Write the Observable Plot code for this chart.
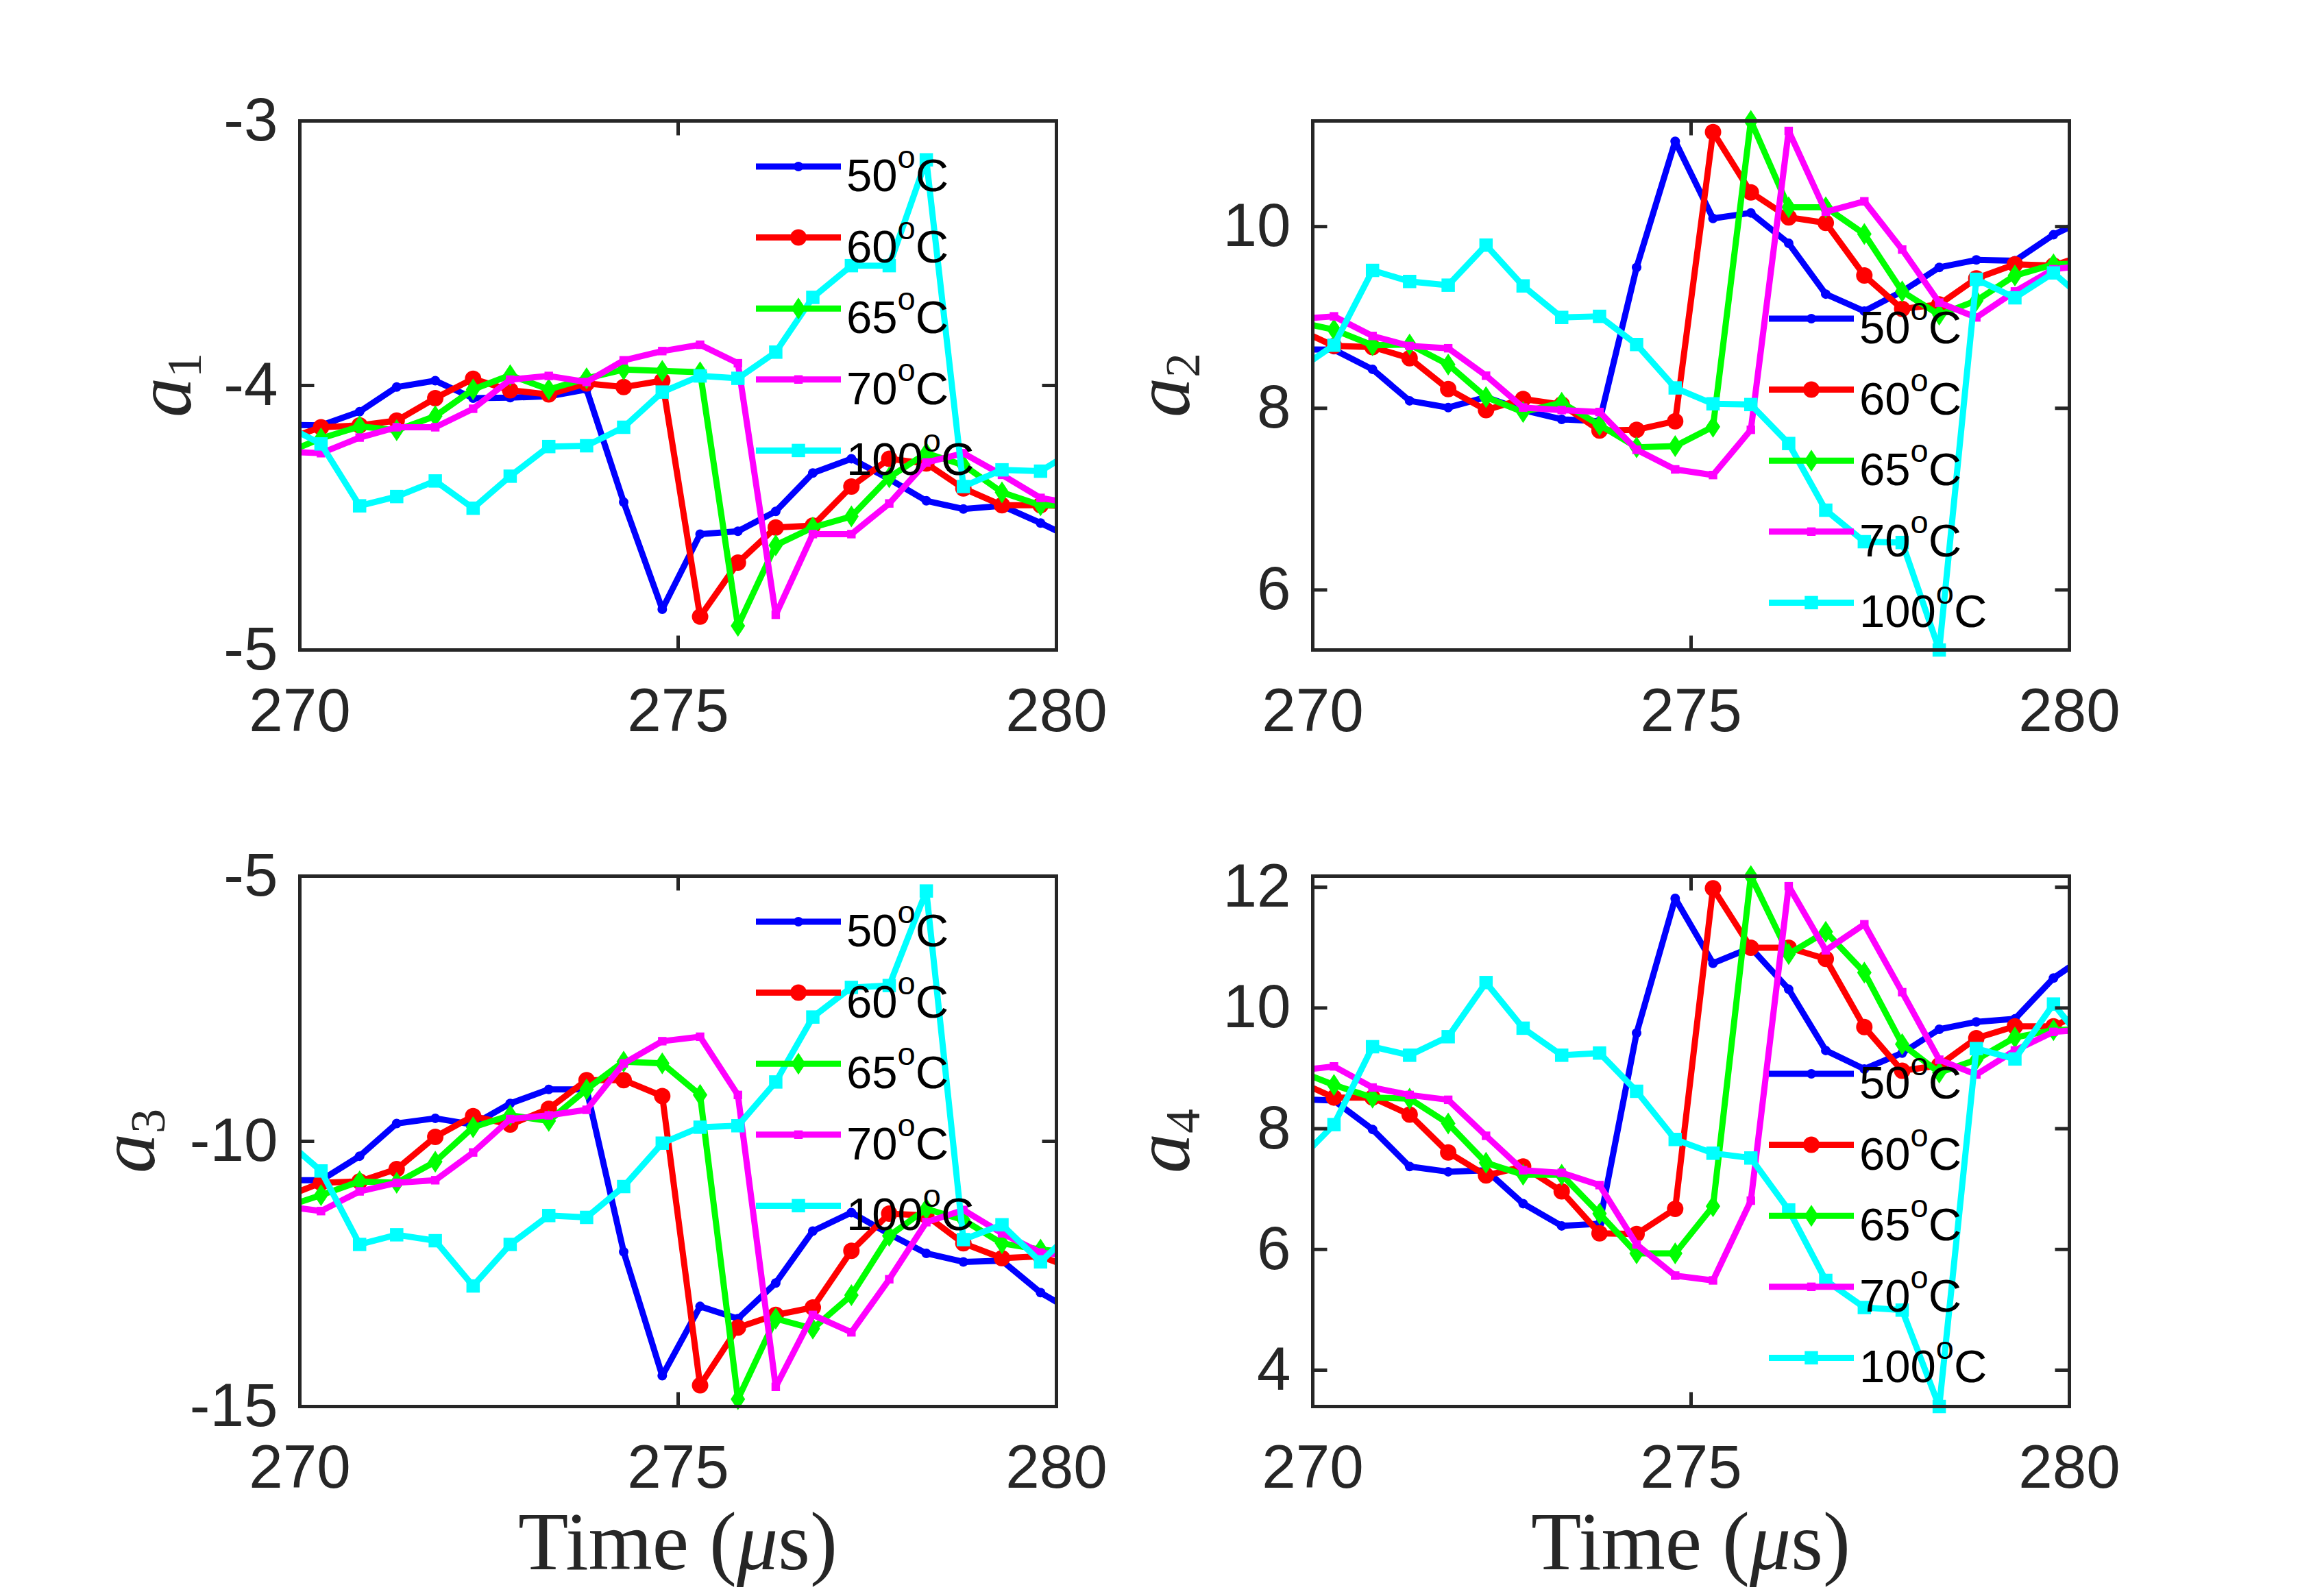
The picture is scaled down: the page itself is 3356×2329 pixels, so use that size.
<!DOCTYPE html>
<html>
<head>
<meta charset="utf-8">
<script src="https://cdn.jsdelivr.net/npm/d3@7"></script>
<script src="https://cdn.jsdelivr.net/npm/@observablehq/plot@0.6"></script>
<style>
html, body { margin: 0; padding: 0; background: #ffffff; }
#fig { position: relative; width: 3356px; height: 2329px; background: #ffffff; overflow: hidden; }
#fig svg { position: absolute; }
</style>
</head>
<body>
<div id="fig"></div>
<script>
// ---------------- data ----------------
const times = [269.78, 270.28, 270.79, 271.28, 271.79, 272.29, 272.78, 273.29, 273.79, 274.28, 274.79,
               275.29, 275.79, 276.29, 276.78, 277.29, 277.79, 278.28, 278.77, 279.28, 279.79, 280.29];

const seriesLabels = ["50", "60", "65", "70", "100"];
const seriesColors = ["#0000ff", "#ff0000", "#00ff00", "#ff00ff", "#00ffff"];

const xTicks = [270, 275, 280];

// a1
const a1_50  = [-4.148, -4.151, -4.099, -4.006, -3.982, -4.048, -4.046, -4.041, -4.015, -4.441, -4.846, -4.562, -4.551, -4.476, -4.331, -4.277, -4.354, -4.436, -4.467, -4.455, -4.520, -4.589];
const a1_60  = [-4.207, -4.158, -4.151, -4.133, -4.048, -3.975, -4.018, -4.034, -3.992, -4.006, -3.982, -4.874, -4.670, -4.537, -4.530, -4.382, -4.277, -4.295, -4.389, -4.453, -4.453, -4.457];
const a1_65  = [-4.260, -4.200, -4.155, -4.169, -4.116, -4.015, -3.961, -4.015, -3.973, -3.940, -3.945, -3.950, -4.909, -4.604, -4.537, -4.495, -4.347, -4.256, -4.301, -4.404, -4.453, -4.450];
const a1_70  = [-4.250, -4.256, -4.197, -4.158, -4.158, -4.088, -3.978, -3.964, -3.987, -3.905, -3.870, -3.846, -3.916, -4.867, -4.562, -4.562, -4.446, -4.291, -4.256, -4.338, -4.425, -4.450];
const a1_100 = [-4.147, -4.221, -4.455, -4.420, -4.361, -4.464, -4.343, -4.231, -4.228, -4.158, -4.025, -3.964, -3.973, -3.874, -3.667, -3.547, -3.547, -3.147, -4.382, -4.319, -4.324, -4.235];
const a1_yTicks = [-5, -4, -3];
const a1_yDomain = [-5, -3];

// a2
const a2_50  = [8.65, 8.645, 8.429, 8.082, 8.008, 8.122, 7.980, 7.878, 7.857, 9.551, 10.939, 10.090, 10.151, 9.816, 9.257, 9.069, 9.286, 9.551, 9.633, 9.624, 9.910, 10.11];
const a2_60  = [8.88, 8.686, 8.673, 8.551, 8.212, 7.980, 8.102, 8.041, 7.755, 7.763, 7.857, 11.041, 10.376, 10.102, 10.041, 9.461, 9.094, 9.143, 9.429, 9.584, 9.571, 9.71];
const a2_65  = [8.955, 8.865, 8.694, 8.702, 8.482, 8.122, 7.959, 8.061, 7.816, 7.571, 7.584, 7.796, 11.163, 10.212, 10.212, 9.918, 9.286, 9.029, 9.184, 9.461, 9.584, 9.60];
const a2_70  = [8.98, 9.012, 8.796, 8.686, 8.661, 8.359, 8.008, 7.980, 7.959, 7.543, 7.327, 7.265, 7.763, 11.053, 10.163, 10.278, 9.747, 9.163, 9.000, 9.286, 9.531, 9.58];
const a2_100 = [8.41, 8.694, 9.518, 9.396, 9.355, 9.796, 9.347, 9.000, 9.012, 8.702, 8.224, 8.049, 8.041, 7.612, 6.878, 6.531, 6.522, 5.339, 9.420, 9.216, 9.490, 9.13];
const a2_yTicks = [6, 8, 10];

// a3
const a3_50  = [-10.734, -10.734, -10.280, -9.664, -9.566, -9.685, -9.287, -9.021, -9.021, -12.084, -14.420, -13.112, -13.343, -12.671, -11.692, -11.343, -11.748, -12.112, -12.273, -12.252, -12.853, -13.27];
const a3_60  = [-11.06, -10.783, -10.755, -10.524, -9.916, -9.524, -9.685, -9.385, -8.846, -8.846, -9.147, -14.601, -13.510, -13.273, -13.133, -12.063, -11.364, -11.399, -11.923, -12.203, -12.168, -12.43];
const a3_65  = [-11.25, -11.014, -10.755, -10.783, -10.385, -9.734, -9.510, -9.615, -9.021, -8.497, -8.531, -9.126, -14.860, -13.343, -13.531, -12.902, -11.783, -11.273, -11.483, -11.923, -12.042, -12.10];
const a3_70  = [-11.22, -11.315, -10.944, -10.783, -10.734, -10.210, -9.580, -9.510, -9.406, -8.531, -8.112, -8.028, -9.126, -14.629, -13.273, -13.601, -12.601, -11.524, -11.294, -11.734, -12.098, -12.17];
const a3_100 = [-9.94, -10.559, -11.944, -11.762, -11.874, -12.727, -11.944, -11.399, -11.434, -10.853, -10.035, -9.734, -9.706, -8.881, -7.657, -7.098, -7.063, -5.280, -11.853, -11.573, -12.273, -11.59];
const a3_yTicks = [-15, -10, -5];
const a3_yDomain = [-15, -5];

// a4
const a4_50  = [8.49, 8.467, 7.988, 7.373, 7.287, 7.312, 6.759, 6.390, 6.427, 9.585, 11.816, 10.740, 10.998, 10.310, 9.296, 8.989, 9.253, 9.647, 9.770, 9.819, 10.495, 10.925];
const a4_60  = [8.80, 8.516, 8.516, 8.233, 7.607, 7.226, 7.373, 6.962, 6.267, 6.255, 6.673, 11.982, 10.998, 10.998, 10.814, 9.684, 8.959, 9.051, 9.499, 9.696, 9.696, 10.0];
const a4_65  = [8.97, 8.725, 8.516, 8.498, 8.086, 7.435, 7.238, 7.238, 6.593, 5.935, 5.935, 6.716, 12.184, 10.894, 11.263, 10.587, 9.401, 8.928, 9.143, 9.512, 9.634, 9.65];
const a4_70  = [8.96, 9.032, 8.682, 8.559, 8.479, 7.883, 7.312, 7.269, 7.066, 6.083, 5.567, 5.487, 6.808, 12.018, 10.955, 11.386, 10.261, 9.143, 8.897, 9.296, 9.604, 9.65];
const a4_100 = [7.43, 8.068, 9.358, 9.217, 9.524, 10.421, 9.665, 9.217, 9.253, 8.620, 7.822, 7.594, 7.515, 6.654, 5.487, 5.038, 4.995, 3.398, 9.327, 9.155, 10.065, 9.29];
const a4_yTicks = [4, 6, 8, 10, 12];

// ---------------- style / layout ----------------
const fontSans = "'Liberation Sans', Arial, Helvetica, sans-serif";
const fontSerif = "'Liberation Serif', 'Times New Roman', serif";
const axisColor = "#262626";
const xRange = [270, 280];
const lineW = 9;

const tickUp    = {draw(c) { c.moveTo(0, 0); c.lineTo(0, -21); }};
const tickDown  = {draw(c) { c.moveTo(0, 0); c.lineTo(0, 21); }};
const tickRight = {draw(c) { c.moveTo(0, 0); c.lineTo(21, 0); }};
const tickLeft  = {draw(c) { c.moveTo(0, 0); c.lineTo(-21, 0); }};
const diamondTall = {draw(c, size) {
  const r = Math.sqrt(size / Math.PI);
  c.moveTo(0, -r); c.lineTo(r * 0.66, 0); c.lineTo(0, r); c.lineTo(-r * 0.66, 0); c.closePath();
}};
const markerStyles = [
  {symbol: d3.symbolCircle, r: 7},
  {symbol: d3.symbolCircle, r: 12},
  {symbol: diamondTall, r: 16},
  {symbol: d3.symbolSquare, r: 7},
  {symbol: d3.symbolSquare, r: 11}
];

const mL = 300, mR = 60, mT = 80, mB = 300;
const frameW = 1104;

function inRange(t) { return t >= xRange[0] && t <= xRange[1]; }

function tightDomain(series) {
  const vals = [];
  series.forEach(s => s.forEach((v, j) => { if (inRange(times[j])) vals.push(v); }));
  return d3.extent(vals);
}

const panels = [
  {sub: "1", series: [a1_50, a1_60, a1_65, a1_70, a1_100], yTicks: a1_yTicks, yDomain: a1_yDomain,
   left: 137, top: 96, frameH: 772, legendTop: 67, ylabelDx: -159, xlabel: false},
  {sub: "2", series: [a2_50, a2_60, a2_65, a2_70, a2_100], yTicks: a2_yTicks, yDomain: null,
   left: 1615, top: 96, frameH: 772, legendTop: 289, ylabelDx: -180, xlabel: false},
  {sub: "3", series: [a3_50, a3_60, a3_65, a3_70, a3_100], yTicks: a3_yTicks, yDomain: a3_yDomain,
   left: 137, top: 1198, frameH: 774, legendTop: 67, ylabelDx: -212, xlabel: true},
  {sub: "4", series: [a4_50, a4_60, a4_65, a4_70, a4_100], yTicks: a4_yTicks, yDomain: null,
   left: 1615, top: 1198, frameH: 774, legendTop: 289, ylabelDx: -180, xlabel: true}
];

const fig = document.getElementById("fig");

panels.forEach(p => {
  const yDomain = p.yDomain || tightDomain(p.series);
  const marks = [];
  p.series.forEach((vals, i) => {
    const data = times.map((t, j) => ({t, v: vals[j]}));
    marks.push(Plot.line(data, {x: "t", y: "v", stroke: seriesColors[i], strokeWidth: lineW,
      strokeLinejoin: "round", clip: true}));
    marks.push(Plot.dot(data.filter(d => inRange(d.t)), {x: "t", y: "v", fill: seriesColors[i],
      stroke: "none", symbol: markerStyles[i].symbol, r: markerStyles[i].r}));
  });
  marks.push(Plot.frame({stroke: axisColor, strokeWidth: 5}));
  marks.push(Plot.dot(xTicks, {x: d => d, frameAnchor: "bottom", symbol: tickUp, r: 1, fill: "none", stroke: axisColor, strokeWidth: 5}));
  marks.push(Plot.dot(xTicks, {x: d => d, frameAnchor: "top", symbol: tickDown, r: 1, fill: "none", stroke: axisColor, strokeWidth: 5}));
  marks.push(Plot.dot(p.yTicks, {y: d => d, frameAnchor: "left", symbol: tickRight, r: 1, fill: "none", stroke: axisColor, strokeWidth: 5}));
  marks.push(Plot.dot(p.yTicks, {y: d => d, frameAnchor: "right", symbol: tickLeft, r: 1, fill: "none", stroke: axisColor, strokeWidth: 5}));
  marks.push(Plot.axisX({ticks: xTicks, tickSize: 0, tickPadding: 55, tickFormat: d => String(d),
    fontSize: 89, label: null, fill: axisColor}));
  marks.push(Plot.axisY({ticks: p.yTicks, tickSize: 0, tickPadding: 32, tickFormat: d => String(d),
    fontSize: 89, label: null, fill: axisColor}));

  const W = mL + frameW + mR;
  const H = mT + p.frameH + mB;
  const svg = Plot.plot({
    width: W, height: H,
    marginLeft: mL, marginRight: mR, marginTop: mT, marginBottom: mB,
    x: {domain: xRange},
    y: {domain: yDomain},
    style: {fontFamily: fontSans, fontSize: "89px", color: axisColor, background: "transparent", overflow: "visible", maxWidth: "none"},
    marks
  });
  svg.style.left = p.left + "px";
  svg.style.top = p.top + "px";

  const s = d3.select(svg);
  // y label
  const cy = mT + p.frameH / 2;
  const yl = s.append("text")
    .attr("transform", `translate(${mL + p.ylabelDx},${cy}) rotate(-90)`)
    .attr("text-anchor", "middle")
    .attr("font-family", fontSerif)
    .attr("font-size", 116)
    .attr("fill", axisColor);
  yl.append("tspan").attr("font-style", "italic").text("a");
  yl.append("tspan").attr("font-size", 72).attr("dy", 15).text(p.sub);

  // x label
  if (p.xlabel) {
    const xl = s.append("text")
      .attr("x", mL + frameW / 2)
      .attr("y", mT + p.frameH + 238)
      .attr("text-anchor", "middle")
      .attr("font-family", fontSerif)
      .attr("font-size", 120)
      .attr("fill", axisColor);
    xl.append("tspan").text("Time (");
    xl.append("tspan").attr("font-style", "italic").text("\u03bc");
    xl.append("tspan").text("s)");
  }

  // legend
  const lg = s.append("g");
  seriesLabels.forEach((lab, i) => {
    const ry = mT + p.legendTop + 103.6 * i;
    lg.append("line")
      .attr("x1", mL + 666).attr("x2", mL + 790)
      .attr("y1", ry).attr("y2", ry)
      .attr("stroke", seriesColors[i]).attr("stroke-width", lineW);
    const ms = markerStyles[i];
    lg.append("path")
      .attr("transform", `translate(${mL + 728},${ry})`)
      .attr("d", d3.symbol(ms.symbol, ms.r * ms.r * Math.PI)())
      .attr("fill", seriesColors[i]);
    const t = lg.append("text")
      .attr("x", mL + 798).attr("y", ry + 36)
      .attr("text-anchor", "start")
      .attr("font-family", fontSans).attr("font-size", 67).attr("fill", "#000000");
    t.append("tspan").text(lab);
    t.append("tspan").attr("font-size", 47).attr("dy", -34).text("o");
    t.append("tspan").attr("dy", 34).text("C");
  });

  fig.appendChild(svg);
});
</script>
</body>
</html>
